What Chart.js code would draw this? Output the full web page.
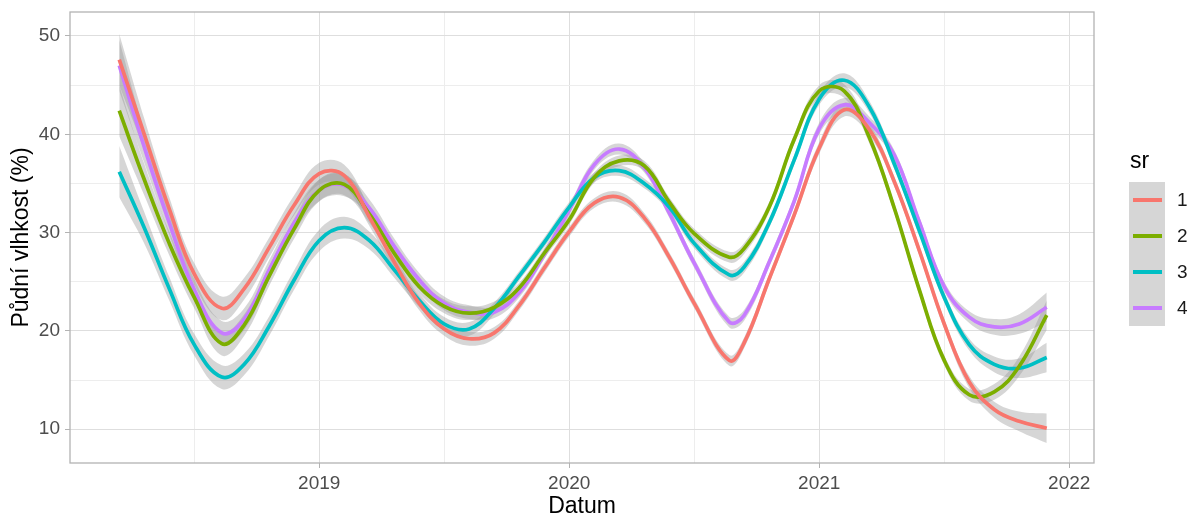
<!DOCTYPE html>
<html lang="cs">
<head>
<meta charset="utf-8">
<title>Půdní vlhkost</title>
<script src="https://cdn.jsdelivr.net/npm/chart.js@4.4.1/dist/chart.umd.min.js"></script>
<style>
  html, body { margin: 0; padding: 0; background: #fff; }
  #obal { position: relative; width: 1190px; height: 517px; font-family: "Liberation Sans", Arial, sans-serif; }
  #graf { position: absolute; left: 0; top: 0; }
  #legenda { position: absolute; left: 1129px; top: 149px; }
  #legenda .titulek { font-size: 23px; line-height: 22px; height: 33px; padding-left: 1px; color: #000; }
  #legenda .radek { display: flex; align-items: center; height: 36px; }
  #legenda .klic { position: relative; width: 36px; height: 36px; background: #d6d6d6; }
  #legenda .cara { position: absolute; left: 4px; top: 16px; width: 29px; height: 4px; }
  #legenda .text { margin-left: 12px; font-size: 19px; color: #1a1a1a; }
</style>
</head>
<body>
<div id="obal">
  <canvas id="graf" width="1190" height="517"></canvas>
  <div id="legenda"></div>
</div>
<script>
// ── Data ──────────────────────────────────────────────────
const datumy = [2018.2, 2018.3, 2018.4, 2018.5, 2018.61, 2018.7, 2018.8, 2018.9,
                2019.0, 2019.1, 2019.2, 2019.3, 2019.4, 2019.5, 2019.6, 2019.7, 2019.8, 2019.9,
                2020.0, 2020.1, 2020.2, 2020.3, 2020.4, 2020.5, 2020.64, 2020.7, 2020.8, 2020.9,
                2021.0, 2021.1, 2021.2, 2021.3, 2021.4, 2021.5, 2021.6, 2021.7, 2021.8, 2021.91];

const vlhkostSr1 = [47.6, 40.0, 32.4, 25.8, 22.3, 24.3, 28.5, 32.8,
                    36.0, 35.8, 31.6, 27.0, 22.8, 20.2, 19.2, 19.8, 22.6, 26.4,
                    30.1, 33.0, 33.6, 31.5, 27.5, 22.8, 17.0, 18.8, 25.3, 31.8,
                    38.6, 42.5, 40.5, 35.2, 28.2, 20.7, 14.8, 12.0, 10.8, 10.1];

const vlhkostSr2 = [42.4, 35.4, 28.9, 23.4, 18.7, 20.6, 25.6, 30.4,
                    34.3, 34.9, 31.9, 27.9, 24.5, 22.5, 21.8, 22.4, 24.4, 27.9,
                    31.3, 35.6, 37.3, 36.8, 33.1, 29.9, 27.5, 28.4, 32.6, 39.5,
                    44.4, 44.4, 39.7, 32.5, 24.2, 17.0, 13.5, 13.8, 16.4, 21.6];

const vlhkostSr3 = [36.2, 30.5, 24.3, 18.6, 15.3, 16.6, 20.5, 25.2,
                    29.2, 30.5, 29.2, 26.2, 23.1, 20.7, 20.2, 22.3, 25.6, 29.0,
                    32.6, 35.6, 36.3, 35.0, 32.6, 28.9, 25.7, 26.5, 31.0, 37.4,
                    43.6, 45.5, 42.8, 37.0, 30.2, 23.4, 18.6, 16.6, 16.2, 17.3];

const vlhkostSr4 = [47.0, 38.7, 31.0, 24.2, 19.8, 21.2, 26.2, 31.0,
                    34.3, 34.8, 32.5, 28.6, 25.2, 22.8, 21.9, 21.9, 23.9, 27.8,
                    32.3, 36.9, 38.5, 36.6, 32.0, 26.9, 20.9, 21.6, 27.0, 33.2,
                    40.6, 43.0, 41.2, 37.9, 31.1, 24.5, 21.4, 20.4, 20.7, 22.4];

// polosirka pasu spolehlivosti (+/-)
const pasmo = [2.6, 1.6, 1.2, 1.1, 1.2, 1.1, 1.0, 1.0,
               1.1, 1.1, 0.9, 0.8, 0.7, 0.7, 0.7, 0.6, 0.5, 0.5,
               0.5, 0.5, 0.55, 0.5, 0.5, 0.5, 0.55, 0.55, 0.5, 0.5,
               0.6, 0.7, 0.6, 0.5, 0.5, 0.5, 0.6, 0.8, 1.0, 1.5];

const nazvySr  = ['1', '2', '3', '4'];
const barvySr  = ['#F8766D', '#7CAE00', '#00BFC4', '#C77CFF'];
const popiskyX = [2019, 2020, 2021, 2022];
const popiskyY = [10, 20, 30, 40, 50];

const PISMO = '"Liberation Sans", Arial, sans-serif';
const HLAVNI = '#dedede';
const VEDLEJSI = '#ededed';

/**
 * Sestavi body {x, y} pro krivku, posunutou o k nasobku pasma.
 */
function body(hodnoty, k) {
    return datumy.map((d, i) => ({ x: d, y: hodnoty[i] + k * pasmo[i] }));
}

// Mrizka: hlavni cary + vedlejsi v polovine
const mrizkaX = popiskyX.flatMap(r => [r - 0.5, r]);
const mrizkaY = popiskyY.flatMap(v => v === popiskyY[0] ? [v] : [v - 5, v]);

const serie = [vlhkostSr1, vlhkostSr2, vlhkostSr3, vlhkostSr4];
const datasets = [];

// pasy (sede, pod carami)
serie.forEach((hodnoty, i) => {
    datasets.push({
        label: 'dolni ' + nazvySr[i], data: body(hodnoty, -1),
        borderWidth: 0, pointRadius: 0, fill: false, tension: 0.4, order: 2,
    });
    datasets.push({
        label: 'horni ' + nazvySr[i], data: body(hodnoty, 1),
        borderWidth: 0, pointRadius: 0, fill: '-1', tension: 0.4, order: 2,
        backgroundColor: 'rgba(153, 153, 153, 0.4)',
    });
});

// samotne krivky
serie.forEach((hodnoty, i) => {
    datasets.push({
        label: nazvySr[i], data: body(hodnoty, 0),
        borderColor: barvySr[i], borderWidth: 3.7, pointRadius: 0,
        fill: false, tension: 0.4, order: 1,
    });
});

// ramecek panelu (theme_light)
const ramecek = {
    id: 'ramecek',
    afterDraw(chart) {
        const { ctx, chartArea: a } = chart;
        ctx.save();
        ctx.strokeStyle = '#b3b3b3';
        ctx.lineWidth = 1.3;
        ctx.strokeRect(a.left, a.top, a.right - a.left, a.bottom - a.top);
        ctx.restore();
    }
};

new Chart(document.getElementById('graf').getContext('2d'), {
    type: 'line',
    data: { datasets },
    plugins: [ramecek],
    options: {
        animation: false,
        responsive: false,
        devicePixelRatio: 1,
        layout: { padding: { top: 12, right: 96, left: 0, bottom: 0 } },
        plugins: { legend: { display: false }, tooltip: { enabled: false } },
        scales: {
            x: {
                type: 'linear', min: 2018.003, max: 2022.099,
                afterBuildTicks: s => { s.ticks = mrizkaX.map(v => ({ value: v })); },
                afterFit: s => { s.height = 54; s.paddingLeft = 0; s.paddingRight = 0; },
                border: { display: false },
                grid: {
                    color: c => popiskyX.includes(c.tick.value) ? HLAVNI : VEDLEJSI,
                    tickColor: c => popiskyX.includes(c.tick.value) ? '#b3b3b3' : 'rgba(0,0,0,0)',
                    lineWidth: 1, tickLength: 5,
                },
                ticks: {
                    autoSkip: false, maxRotation: 0, padding: 4, color: '#4d4d4d',
                    font: { family: PISMO, size: 19 },
                    callback: v => popiskyX.includes(v) ? String(v) : '',
                },
                title: {
                    display: true, text: 'Datum', color: '#000',
                    font: { family: PISMO, size: 23, lineHeight: 0.9 }, padding: 0,
                },
            },
            y: {
                min: 6.56, max: 52.44,
                afterBuildTicks: s => { s.ticks = mrizkaY.map(v => ({ value: v })); },
                afterFit: s => { s.width = 70; s.paddingTop = 0; s.paddingBottom = 0; },
                border: { display: false },
                grid: {
                    color: c => popiskyY.includes(c.tick.value) ? HLAVNI : VEDLEJSI,
                    tickColor: c => popiskyY.includes(c.tick.value) ? '#b3b3b3' : 'rgba(0,0,0,0)',
                    lineWidth: 1, tickLength: 5,
                },
                ticks: {
                    autoSkip: false, padding: 5, color: '#4d4d4d',
                    font: { family: PISMO, size: 19 },
                    callback: v => popiskyY.includes(v) ? String(v) : '',
                },
                title: {
                    display: true, text: 'Půdní vlhkost (%)', color: '#000',
                    font: { family: PISMO, size: 23, lineHeight: 0.9 }, padding: { top: 11 },
                },
            },
        },
    },
});

// legenda jako HTML
const legenda = document.getElementById('legenda');
legenda.innerHTML = '<div class="titulek">sr</div>' + nazvySr.map((n, i) =>
    '<div class="radek"><div class="klic"><div class="cara" style="background:' + barvySr[i] +
    '"></div></div><div class="text">' + n + '</div></div>').join('');
</script>
</body>
</html>
